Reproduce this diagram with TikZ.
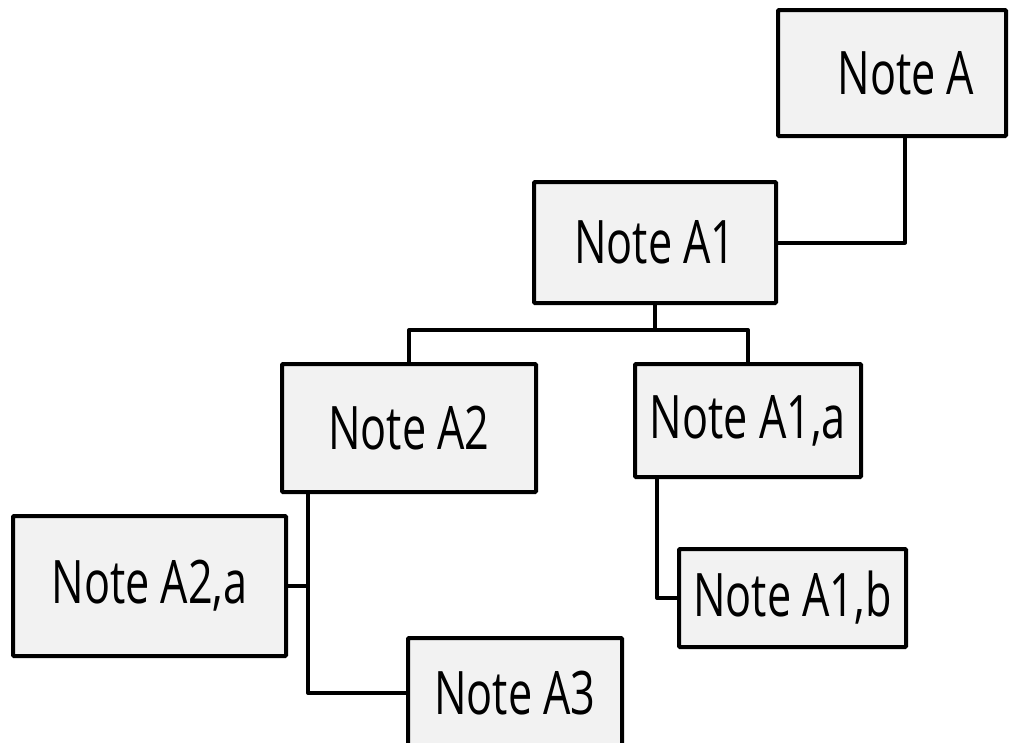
\documentclass[tikz,border=0pt]{standalone}
\usepackage{fontspec}
\setmainfont{Open Sans}[FakeStretch=0.72]
\definecolor{boxfill}{HTML}{F2F2F2}
\tikzset{
  notebox/.style={draw=black, fill=boxfill, line width=4pt, rounded corners=1pt,
    inner sep=0pt, outer sep=0pt, align=center, font=\fontsize{60}{60}\selectfont},
  wire/.style={draw=black, line width=4pt, line join=round}
}
\begin{document}
\begin{tikzpicture}[x=1pt,y=-1pt]
\useasboundingbox (0,0) rectangle (1022,742);
\node[notebox, minimum width=228pt, minimum height=126pt] (A) at (892,73) {\hspace*{28pt}Note A};
\node[notebox, minimum width=242pt, minimum height=121pt] (A1) at (655,242.5) {Note A1};
\node[notebox, minimum width=254pt, minimum height=128pt] (A2) at (409,428) {Note A2};
\node[notebox, minimum width=226pt, minimum height=113pt] (A1a) at (748,420.5) {Note A1,a};
\node[notebox, minimum width=273pt, minimum height=140pt] (A2a) at (149.5,586) {Note A2,a};
\node[notebox, minimum width=214pt, minimum height=110pt] (A3) at (515,693) {Note A3};
\node[notebox, minimum width=227pt, minimum height=98pt] (A1b) at (792.5,598) {Note A1,b};
\coordinate (tA) at ([xshift=13pt]A.south);
\coordinate (j1) at ([yshift=-27pt]A1.south);
\coordinate (t2) at ([xshift=-101pt]A2.south);
\coordinate (t1a) at ([xshift=-91pt]A1a.south);
\draw[wire] (tA) |- (A1.east);
\draw[wire] (A1.south) -- (j1);
\draw[wire] (A2.north) |- (j1) -| (A1a.north);
\draw[wire] (t2) |- (A3.west);
\draw[wire] (A2a.east) -- (A2a.east -| t2);
\draw[wire] (t1a) |- (A1b.west);
\end{tikzpicture}
\end{document}
